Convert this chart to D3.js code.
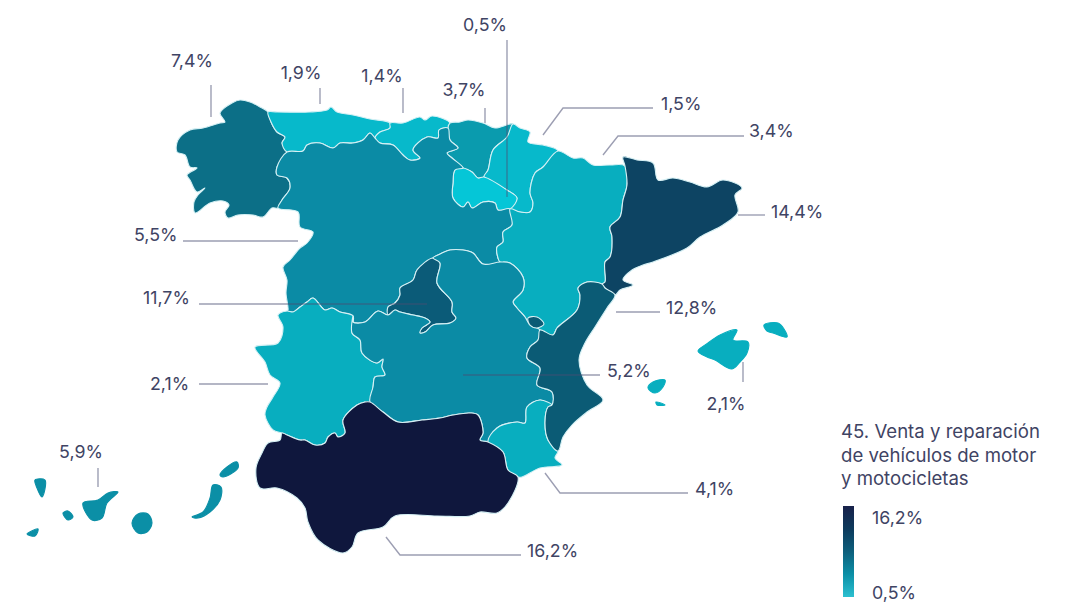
<!DOCTYPE html>
<html><head><meta charset="utf-8">
<script src="https://cdn.jsdelivr.net/npm/d3@7"></script>
<style>html,body{margin:0;background:#fff}svg{display:block}text{font-family:Inter,"Noto Sans",sans-serif;fill:#3f4464}</style>
</head><body><svg id="c" width="1090" height="616"></svg>
<script>
// ---------- data ----------
const regions = ["Galicia","Asturias","Cantabria","País Vasco","Navarra","La Rioja","Castilla y León","Madrid","Aragón","Cataluña","Extremadura","Castilla-La Mancha","Murcia","Andalucía","Valencia","Baleares","Canarias"];
const values  = [7.4,1.9,1.4,3.7,1.5,0.5,5.5,11.7,3.4,14.4,2.1,5.2,4.1,16.2,12.8,2.1,5.9];
const fills   = ["#0c6f87","#07b9cb","#07b9cb","#0a9bae","#07b9cb","#05c6d7","#0b8ba5","#0b5b78","#08aebf","#0d4463","#08aebf","#0b8ba5","#08aebf","#0f173d","#0b5b75","#08aebf","#0b8fa6"];
const legendTitle = ["45. Venta y reparación","de vehículos de motor","y motocicletas"];
const legendStops = ["#2cc0d0","#0b8fa6","#0d5f7c","#0d3a5c","#18214a"];

// map outlines, shared borders as chains in map units
const chains = {
 galCoast:[[268,112],[260,107],[250,102],[240,100],[232,103],[220,113],[225,122],[220,123],[203,128],[190,130],[178,140],[177,152],[185,155],[190,167],[197,168],[187,175],[190,180],[197,192],[205,188],[198,195],[194,202],[195,213],[210,203],[223,201],[229,205],[225,212],[228,218],[238,215],[253,215],[263,217],[272,208],[278,208]],
 galAst:[[268,112],[271,122],[277,132],[285,137],[282,143],[287,152]],
 galCyl:[[287,152],[277,167],[277,175],[287,178],[290,188],[282,200],[278,208]],
 astCoast:[[268,112],[277,112],[310,112],[327,110],[331,107],[337,112],[353,115],[370,119],[390,123]],
 astCan:[[390,123],[390,128],[380,132],[375,138]],
 astCyl:[[287,152],[303,151],[307,145],[320,143],[333,148],[340,143],[353,143],[363,140],[370,133],[375,138]],
 canCoast:[[390,123],[403,123],[420,117],[425,120],[432,116],[450,123]],
 canPv:[[450,123],[448,128]],
 canCyl:[[375,138],[380,143],[393,145],[403,155],[410,160],[420,158],[413,150],[427,137],[438,138],[439,130],[448,128]],
 pvCoast:[[450,123],[460,122],[468,120],[483,123],[495,128],[513,124]],
 pvNav:[[513,124],[507,137],[493,150],[488,170],[484,177]],
 pvRio:[[463,168],[472,172],[478,178],[484,177]],
 pvCyl:[[448,128],[450,140],[458,148],[447,153],[452,158],[463,168]],
 navCoast:[[513,124],[520,128],[530,132],[528,142],[543,145],[558,151]],
 navAra:[[558,151],[543,167],[535,173],[530,193],[533,203],[530,212],[520,212],[510,209]],
 rioNav:[[484,177],[507,190],[517,198],[510,209]],
 rioCyl:[[463,168],[455,170],[453,183],[453,198],[463,207],[468,202],[472,208],[483,202],[495,203],[498,210],[510,209]],
 cylAra:[[510,209],[512,225],[503,232],[503,242],[497,247],[498,258],[500,262]],
 cylClm:[[500,262],[483,264],[473,253],[463,250],[450,250],[438,255],[433,258]],
 cylMad:[[433,258],[417,270],[413,280],[400,288],[400,295],[395,303],[388,307],[388,315]],
 cylClm2:[[388,315],[378,311],[365,322],[353,322],[353,316]],
 cylExt:[[353,316],[340,312],[332,308],[325,310],[313,298],[307,302],[300,307],[293,312],[287,311]],
 cylCoast:[[278,208],[298,212],[300,227],[313,232],[307,243],[300,248],[290,260],[283,267],[287,280],[286,293],[288,310],[287,311]],
 madClm:[[433,258],[440,263],[437,283],[452,302],[452,312],[456,318],[450,323],[433,325],[425,332],[420,333],[422,328],[430,322],[425,318],[413,315],[400,312],[395,310],[388,315]],
 araCoast:[[558,151],[573,158],[583,158],[593,165],[610,165],[625,166]],
 araCat:[[625,166],[627,185],[623,200],[620,217],[610,227],[612,237],[610,257],[605,262],[605,282],[602,284]],
 araVal:[[602,284],[587,282],[578,288],[580,295],[577,310],[557,328],[553,335],[540,330]],
 araClm:[[500,262],[510,263],[523,277],[523,290],[513,302],[517,308],[525,317],[530,325],[540,330]],
 catCoast:[[625,166],[623,157],[637,160],[653,163],[658,180],[673,178],[690,182],[707,187],[723,180],[742,188],[735,195],[738,212],[723,225],[700,237],[687,248],[653,262],[643,265],[632,270],[623,280],[633,285],[620,290],[615,295]],
 catVal:[[602,284],[605,288],[615,295]],
 valCoast:[[615,295],[607,308],[595,327],[585,343],[579,360],[587,385],[603,400],[587,412],[572,425],[563,437],[558,451]],
 valMur:[[552,405],[548,407],[545,423],[548,440],[558,451]],
 valClm:[[540,330],[538,340],[530,347],[527,358],[540,368],[537,385],[552,392],[552,405]],
 murCoast:[[558,451],[555,458],[562,465],[540,468],[522,477],[518,477]],
 murAnd:[[518,477],[508,470],[503,452],[488,442]],
 murClm:[[488,442],[497,428],[517,422],[525,423],[527,407],[540,400],[552,405]],
 andClm:[[370,402],[383,412],[398,422],[422,420],[440,418],[453,415],[470,413],[478,415],[483,433],[480,440],[488,442]],
 andExt:[[370,402],[365,402],[357,405],[343,420],[345,433],[338,437],[335,433],[328,437],[325,443],[315,445],[305,440],[300,440],[287,435],[282,433]],
 andCoast:[[282,433],[280,440],[268,443],[262,453],[256,468],[260,488],[277,488],[297,498],[305,508],[308,522],[318,540],[343,553],[352,547],[358,533],[383,527],[395,516],[437,516],[470,516],[480,512],[497,513],[508,503],[518,477]],
 extClm:[[353,316],[352,333],[360,340],[362,353],[377,363],[383,359],[382,367],[385,375],[375,377],[373,387],[370,402]],
 extCoast:[[287,311],[278,315],[283,327],[278,343],[255,347],[265,362],[270,375],[280,383],[273,397],[267,407],[265,415],[273,430],[282,433]]
};
const rings = {
 "Galicia":["galCoast","-galCyl","-galAst"],
 "Asturias":["astCoast","astCan","-astCyl","-galAst"],
 "Cantabria":["canCoast","canPv","-canCyl","-astCan"],
 "País Vasco":["pvCoast","pvNav","-pvRio","-pvCyl","-canPv"],
 "Navarra":["navCoast","navAra","-rioNav","-pvNav"],
 "La Rioja":["pvRio","rioNav","-rioCyl"],
 "Castilla y León":["astCyl","canCyl","pvCyl","rioCyl","cylAra","cylClm","cylMad","cylClm2","cylExt","-cylCoast","-galCyl"],
 "Madrid":["madClm","-cylMad"],
 "Aragón":["araCoast","araCat","araVal","-araClm","-cylAra","-navAra"],
 "Cataluña":["catCoast","-catVal","-araCat"],
 "Extremadura":["-cylExt","extClm","andExt","-extCoast"],
 "Castilla-La Mancha":["cylClm","madClm","cylClm2","extClm","andClm","murClm","-valClm","-araClm"],
 "Murcia":["murCoast","murAnd","murClm","valMur"],
 "Andalucía":["andCoast","murAnd","-andClm","andExt"],
 "Valencia":["catVal","valCoast","-valMur","-valClm","-araVal"]
};
const extraRings = {
 "Valencia":[[[528,318],[537,317],[544,324],[537,328],[530,325]]],
 "Baleares":[
  [[698,351],[708,343],[720,335],[737,330],[733,340],[748,342],[747,353],[740,362],[732,369],[715,360],[707,357]],
  [[764,325],[778,323],[784,329],[787,337],[773,333],[767,331]],
  [[648,388],[653,382],[665,380],[663,387],[655,393]],
  [[656,402],[665,405],[657,405]]],
 "Canarias":[
  [[35,480],[45,480],[42,497],[37,488]],
  [[63,513],[68,511],[73,517],[68,520]],
  [[27,534],[38,529],[35,536]],
  [[83,503],[98,500],[108,493],[118,492],[107,503],[102,518],[92,520]],
  [[132,523],[138,514],[148,514],[152,523],[147,532],[138,533]],
  [[192,517],[203,512],[210,498],[213,485],[221,487],[220,500],[210,512],[198,518]],
  [[220,475],[227,467],[237,462],[238,468],[223,477]]]
};
// label layout: region index, anchor, label point, leader path in map units
const labels = [
 {r:"Galicia",a:"middle",at:[192,60],path:[[211,85],[211,117]]},
 {r:"Asturias",a:"middle",at:[301,72],path:[[320,88],[320,104]]},
 {r:"Cantabria",a:"middle",at:[382,75],path:[[403,88],[403,113]]},
 {r:"País Vasco",a:"middle",at:[464,89],path:[[485,108],[485,123]]},
 {r:"La Rioja",a:"middle",at:[485,24],path:[[507,40],[507,197]]},
 {r:"Navarra",a:"start",at:[661,103],path:[[543,135],[563,108],[653,108]]},
 {r:"Aragón",a:"start",at:[749,130],path:[[603,155],[618,136],[744,136]]},
 {r:"Cataluña",a:"start",at:[771,211],path:[[738,215],[765,215]]},
 {r:"Castilla y León",a:"start",at:[134,234],path:[[183,241],[298,241]]},
 {r:"Madrid",a:"start",at:[143,297],path:[[199,304],[427,304]]},
 {r:"Valencia",a:"start",at:[666,307],path:[[616,312],[660,312]]},
 {r:"Castilla-La Mancha",a:"start",at:[607,370],path:[[463,375],[600,375]]},
 {r:"Extremadura",a:"start",at:[150,383],path:[[199,384],[268,384]]},
 {r:"Baleares",a:"middle",at:[726,403],path:[[743,362],[743,382]]},
 {r:"Canarias",a:"middle",at:[81,451],path:[[98,468],[98,487]]},
 {r:"Murcia",a:"start",at:[695,488],path:[[545,473],[560,493],[688,493]]},
 {r:"Andalucía",a:"start",at:[527,550],path:[[386,537],[400,555],[521,555]]}
];

// ---------- drawing ----------
const svg = d3.select("#c");
const chain = n => n[0]==="-" ? chains[n.slice(1)].slice().reverse() : chains[n];
const dedupe = r => r.filter((p,i) => { const q = r[(i+r.length-1)%r.length]; return p[0]!==q[0]||p[1]!==q[1]; });
const outline = d3.line().curve(d3.curveCatmullRomClosed.alpha(0.5));
const features = regions.map(name => {
  const polys = [];
  if (rings[name]) polys.push(dedupe(rings[name].flatMap(chain)));
  (extraRings[name]||[]).forEach(r => polys.push(r));
  return {name, d: polys.map(outline).join("")};
});
const color = d3.scaleOrdinal(regions, fills);
const valueOf = new Map(regions.map((r,i)=>[r,values[i]]));
const pct = d3.formatLocale({decimal:",",thousands:".",grouping:[3],currency:["","€"]}).format(".1f");

svg.append("g").selectAll("path").data(features).join("path")
  .attr("d",d=>d.d).attr("fill",d=>color(d.name))
  .attr("stroke",d=>["Baleares","Canarias"].includes(d.name)?color(d.name):"#d5f0f4")
  .attr("stroke-width",1.1).attr("stroke-linejoin","round");

const line = d3.line();
svg.append("g").selectAll("path").data(labels).join("path")
  .attr("d",d=>line(d.path)).attr("fill","none").attr("stroke","#4a4e73").attr("stroke-opacity",.55).attr("stroke-width",1.4);
svg.append("g").selectAll("text").data(labels).join("text")
  .attr("x",d=>d.at[0]).attr("y",d=>d.at[1]).attr("text-anchor",d=>d.a)
  .attr("dominant-baseline","central").attr("font-size",17.8)
  .text(d=>pct(valueOf.get(d.r))+"%");

// legend
svg.append("g").selectAll("text").data(legendTitle).join("text")
  .attr("x",841).attr("y",(d,i)=>431+i*23.5).attr("dominant-baseline","central").attr("font-size",18.6).text(d=>d);
const defs = svg.append("defs").append("linearGradient").attr("id","lg").attr("x1",0).attr("x2",0).attr("y1",1).attr("y2",0);
defs.selectAll("stop").data(legendStops).join("stop").attr("offset",(d,i)=>i/(legendStops.length-1)).attr("stop-color",d=>d);
const ly = d3.scaleLinear().domain([d3.min(values),d3.max(values)]).range([597,506]);
svg.append("rect").attr("x",843).attr("width",11).attr("y",ly.range()[1]).attr("height",ly.range()[0]-ly.range()[1]).attr("fill","url(#lg)");
svg.append("g").selectAll("text").data(ly.domain()).join("text")
  .attr("x",872).attr("y",d=>d===ly.domain()[0]?592:517).attr("dominant-baseline","central").attr("font-size",17.8)
  .text(d=>pct(d)+"%");
</script></body></html>
